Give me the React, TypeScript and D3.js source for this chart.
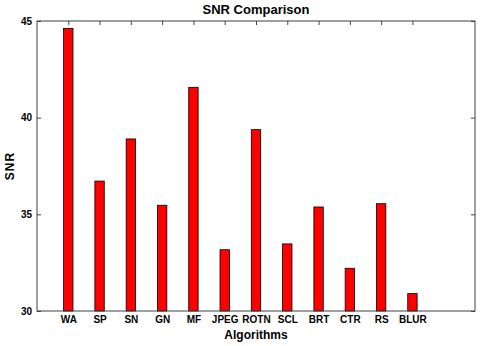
import React, { useEffect, useRef } from 'react';
import * as d3 from 'd3';

const algorithms = ['WA', 'SP', 'SN', 'GN', 'MF', 'JPEG', 'ROTN', 'SCL', 'BRT', 'CTR', 'RS', 'BLUR'];
const snrValues = [44.62, 36.72, 38.9, 35.47, 41.57, 33.17, 39.38, 33.47, 35.38, 32.21, 35.55, 30.9];
const yTicks = [30, 35, 40, 45];

const App = () => {
  const ref = useRef<SVGSVGElement>(null);

  useEffect(() => {
    const width = 480;
    const height = 346;
    const margin = { top: 21, right: 5, bottom: 35, left: 37 };
    const font = 'Liberation Sans, Arial, Helvetica, sans-serif';

    const svg = d3.select(ref.current);
    svg.selectAll('*').remove();
    svg.attr('width', width).attr('height', height);

    svg.append('rect').attr('width', width).attr('height', height).attr('fill', '#fff');

    const x = d3
      .scaleLinear()
      .domain([0, algorithms.length + 2])
      .range([margin.left, width - margin.right]);

    const y = d3
      .scaleLinear()
      .domain([30, 45])
      .range([height - margin.bottom, margin.top]);

    const barW = (x(1) - x(0)) * 0.3;
    const axisColor = '#404040';

    // bars
    svg
      .append('g')
      .selectAll('rect')
      .data(snrValues)
      .join('rect')
      .attr('x', (_, i) => x(i + 1) - barW / 2)
      .attr('y', d => y(d))
      .attr('width', barW)
      .attr('height', d => y(30) - y(d))
      .attr('fill', '#ff0000')
      .attr('stroke', '#000')
      .attr('stroke-width', 0.8);

    // box
    svg
      .append('rect')
      .attr('x', x(0))
      .attr('y', y(45))
      .attr('width', x(algorithms.length + 2) - x(0))
      .attr('height', y(30) - y(45))
      .attr('fill', 'none')
      .attr('stroke', axisColor)
      .attr('stroke-width', 1);

    // bottom axis
    const xAxis = svg
      .append('g')
      .attr('transform', `translate(0,${y(30)})`)
      .call(
        d3
          .axisBottom(x)
          .tickValues(d3.range(1, algorithms.length + 1))
          .tickFormat(d => algorithms[(d as number) - 1])
          .tickSize(0)
          .tickPadding(5)
      );
    xAxis.select('.domain').remove();
    xAxis.selectAll('text').attr('font-family', font).attr('font-size', 10).attr('font-weight', 'bold').attr('fill', '#000');

    // top ticks
    const topAxis = svg
      .append('g')
      .attr('transform', `translate(0,${y(45)})`)
      .call(d3.axisBottom(x).tickValues(d3.range(1, algorithms.length + 1)).tickSize(4).tickFormat(() => ''));
    topAxis.select('.domain').remove();
    topAxis.selectAll('line').attr('stroke', axisColor);

    // left axis
    const yAxis = svg
      .append('g')
      .attr('transform', `translate(${x(0)},0)`)
      .call(d3.axisRight(y).tickValues(yTicks).tickSize(4).tickFormat(() => ''));
    yAxis.select('.domain').remove();
    yAxis.selectAll('line').attr('stroke', axisColor);

    svg
      .append('g')
      .selectAll('text')
      .data(yTicks)
      .join('text')
      .attr('x', x(0) - 5)
      .attr('y', d => y(d))
      .attr('dy', '0.35em')
      .attr('text-anchor', 'end')
      .attr('font-family', font)
      .attr('font-size', 10)
      .attr('font-weight', 'bold')
      .text(d => d);

    // right ticks
    const rAxis = svg
      .append('g')
      .attr('transform', `translate(${x(algorithms.length + 2)},0)`)
      .call(d3.axisLeft(y).tickValues(yTicks).tickSize(4).tickFormat(() => ''));
    rAxis.select('.domain').remove();
    rAxis.selectAll('line').attr('stroke', axisColor);

    const cx = (x(0) + x(algorithms.length + 2)) / 2;

    svg
      .append('text')
      .attr('x', cx)
      .attr('y', 14)
      .attr('text-anchor', 'middle')
      .attr('font-family', font)
      .attr('font-size', 13)
      .attr('font-weight', 'bold')
      .text('SNR Comparison');

    svg
      .append('text')
      .attr('x', cx)
      .attr('y', 339)
      .attr('text-anchor', 'middle')
      .attr('font-family', font)
      .attr('font-size', 12)
      .attr('font-weight', 'bold')
      .text('Algorithms');

    svg
      .append('text')
      .attr('transform', `translate(14,${(y(30) + y(45)) / 2}) rotate(-90)`)
      .attr('text-anchor', 'middle')
      .attr('font-family', font)
      .attr('font-size', 12)
      .attr('font-weight', 'bold')
      .attr('letter-spacing', 1)
      .text('SNR');
  }, []);

  return (
    <div style={{ position: 'fixed', left: 0, top: 0 }}>
      <svg ref={ref} style={{ display: 'block' }}></svg>
    </div>
  );
};

export default App;
